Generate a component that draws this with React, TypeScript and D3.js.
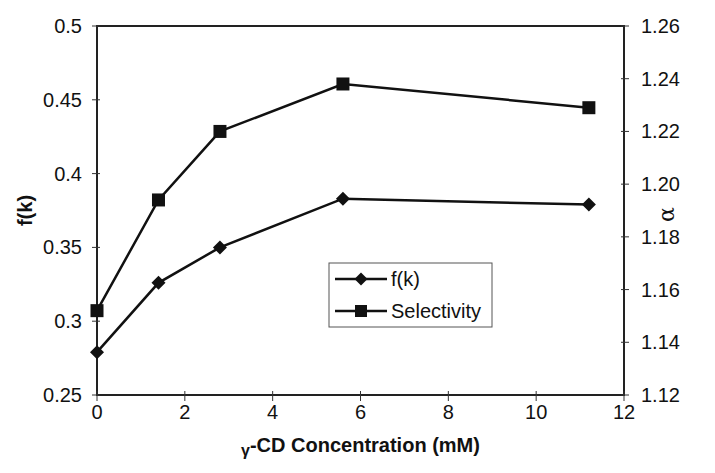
import React from "react";
import * as d3 from "d3";

// gamma-CD concentration (mM)
const concentrations = [0, 1.4, 2.8, 5.6, 11.2];
// f(k) on left axis
const fkValues = [0.279, 0.326, 0.35, 0.383, 0.379];
// selectivity (alpha) on right axis
const selectivityValues = [1.152, 1.194, 1.22, 1.238, 1.229];

const xTicks = [0, 2, 4, 6, 8, 10, 12];
const leftTicks = [0.25, 0.3, 0.35, 0.4, 0.45, 0.5];
const rightTicks = [1.12, 1.14, 1.16, 1.18, 1.2, 1.22, 1.24, 1.26];

const W = 715;
const H = 473;
const plot = { left: 97, right: 624, top: 26, bottom: 395 };
const font = "'Liberation Sans', Arial, sans-serif";
const ink = "#111";

const Diamond = ({ cx, cy, r = 7 }: { cx: number; cy: number; r?: number }) => (
  <path d={`M${cx},${cy - r}L${cx + r},${cy}L${cx},${cy + r}L${cx - r},${cy}Z`} fill={ink} />
);

const Square = ({ cx, cy, s = 13 }: { cx: number; cy: number; s?: number }) => (
  <rect x={cx - s / 2} y={cy - s / 2} width={s} height={s} fill={ink} />
);

export default function App() {
  const x = d3.scaleLinear().domain([0, 12]).range([plot.left, plot.right]);
  const yL = d3.scaleLinear().domain([0.25, 0.5]).range([plot.bottom, plot.top]);
  const yR = d3.scaleLinear().domain([1.12, 1.26]).range([plot.bottom, plot.top]);

  const fkLine = d3
    .line<number>()
    .x((_, i) => x(concentrations[i]))
    .y((d) => yL(d));
  const selLine = d3
    .line<number>()
    .x((_, i) => x(concentrations[i]))
    .y((d) => yR(d));

  const fmtLeft = (v: number) => String(+v.toFixed(2));
  const fmtRight = d3.format(".2f");

  // legend layout
  const lg = { x: 329, y: 263, w: 163, h: 64 };
  const rows = [
    { label: "f(k)", y: 279, kind: "diamond" },
    { label: "Selectivity", y: 311, kind: "square" },
  ];

  return (
    <svg
      width={W}
      height={H}
      style={{ position: "absolute", left: 0, top: 0, background: "#fff" }}
      fontFamily={font}
    >
      <rect width={W} height={H} fill="#fff" />

      {/* frame */}
      <rect
        x={plot.left}
        y={plot.top}
        width={plot.right - plot.left}
        height={plot.bottom - plot.top}
        fill="none"
        stroke="#222"
        strokeWidth={2}
      />

      {/* left axis ticks */}
      {leftTicks.map((t) => (
        <g key={"l" + t}>
          <line x1={plot.left - 5} x2={plot.left + 3} y1={yL(t)} y2={yL(t)} stroke="#333" strokeWidth={1} />
          <text x={plot.left - 15} y={yL(t)} textAnchor="end" dominantBaseline="central" fontSize={20} fill={ink}>
            {fmtLeft(t)}
          </text>
        </g>
      ))}

      {/* right axis ticks */}
      {rightTicks.map((t) => (
        <g key={"r" + t}>
          <line x1={plot.right - 3} x2={plot.right + 5} y1={yR(t)} y2={yR(t)} stroke="#333" strokeWidth={1} />
          <text x={plot.right + 17} y={yR(t)} textAnchor="start" dominantBaseline="central" fontSize={20} fill={ink}>
            {fmtRight(t)}
          </text>
        </g>
      ))}

      {/* bottom axis ticks */}
      {xTicks.map((t) => (
        <g key={"x" + t}>
          <line x1={x(t)} x2={x(t)} y1={plot.bottom - 4} y2={plot.bottom + 6} stroke="#333" strokeWidth={1} />
          <text x={x(t)} y={plot.bottom + 17} textAnchor="middle" dominantBaseline="central" fontSize={20} fill={ink}>
            {t}
          </text>
        </g>
      ))}

      {/* axis titles */}
      <text
        transform={`translate(32,${(plot.top + plot.bottom) / 2}) rotate(-90)`}
        textAnchor="middle"
        fontSize={20}
        fontWeight="bold"
        fill={ink}
      >
        f(k)
      </text>
      <text
        transform={`translate(674,${(plot.top + plot.bottom) / 2 + 4}) rotate(-90)`}
        textAnchor="middle"
        fontSize={22}
        fill={ink}
        fontFamily="'DejaVu Serif', serif"
      >
        α
      </text>
      <text x={(plot.left + plot.right) / 2} y={452} textAnchor="middle" fontSize={20} fontWeight="bold" fill={ink}>
        <tspan fontSize={16} dy={4}>γ</tspan>
        <tspan dy={-4}>-CD Concentration (mM)</tspan>
      </text>

      {/* series */}
      <path d={fkLine(fkValues) || ""} fill="none" stroke={ink} strokeWidth={2.5} />
      <path d={selLine(selectivityValues) || ""} fill="none" stroke={ink} strokeWidth={2.5} />
      {fkValues.map((v, i) => (
        <Diamond key={"d" + i} cx={x(concentrations[i])} cy={yL(v)} />
      ))}
      {selectivityValues.map((v, i) => (
        <Square key={"s" + i} cx={x(concentrations[i])} cy={yR(v)} />
      ))}

      {/* legend */}
      <rect x={lg.x} y={lg.y} width={lg.w} height={lg.h} fill="#fff" stroke="#555" strokeWidth={1} />
      {rows.map((r) => (
        <g key={r.label}>
          <line x1={lg.x + 6} x2={lg.x + 58} y1={r.y} y2={r.y} stroke={ink} strokeWidth={2.5} />
          {r.kind === "diamond" ? (
            <Diamond cx={lg.x + 32} cy={r.y} r={6.5} />
          ) : (
            <Square cx={lg.x + 32} cy={r.y} s={12} />
          )}
          <text x={lg.x + 62} y={r.y} dominantBaseline="central" fontSize={20} fill={ink}>
            {r.label}
          </text>
        </g>
      ))}
    </svg>
  );
}
